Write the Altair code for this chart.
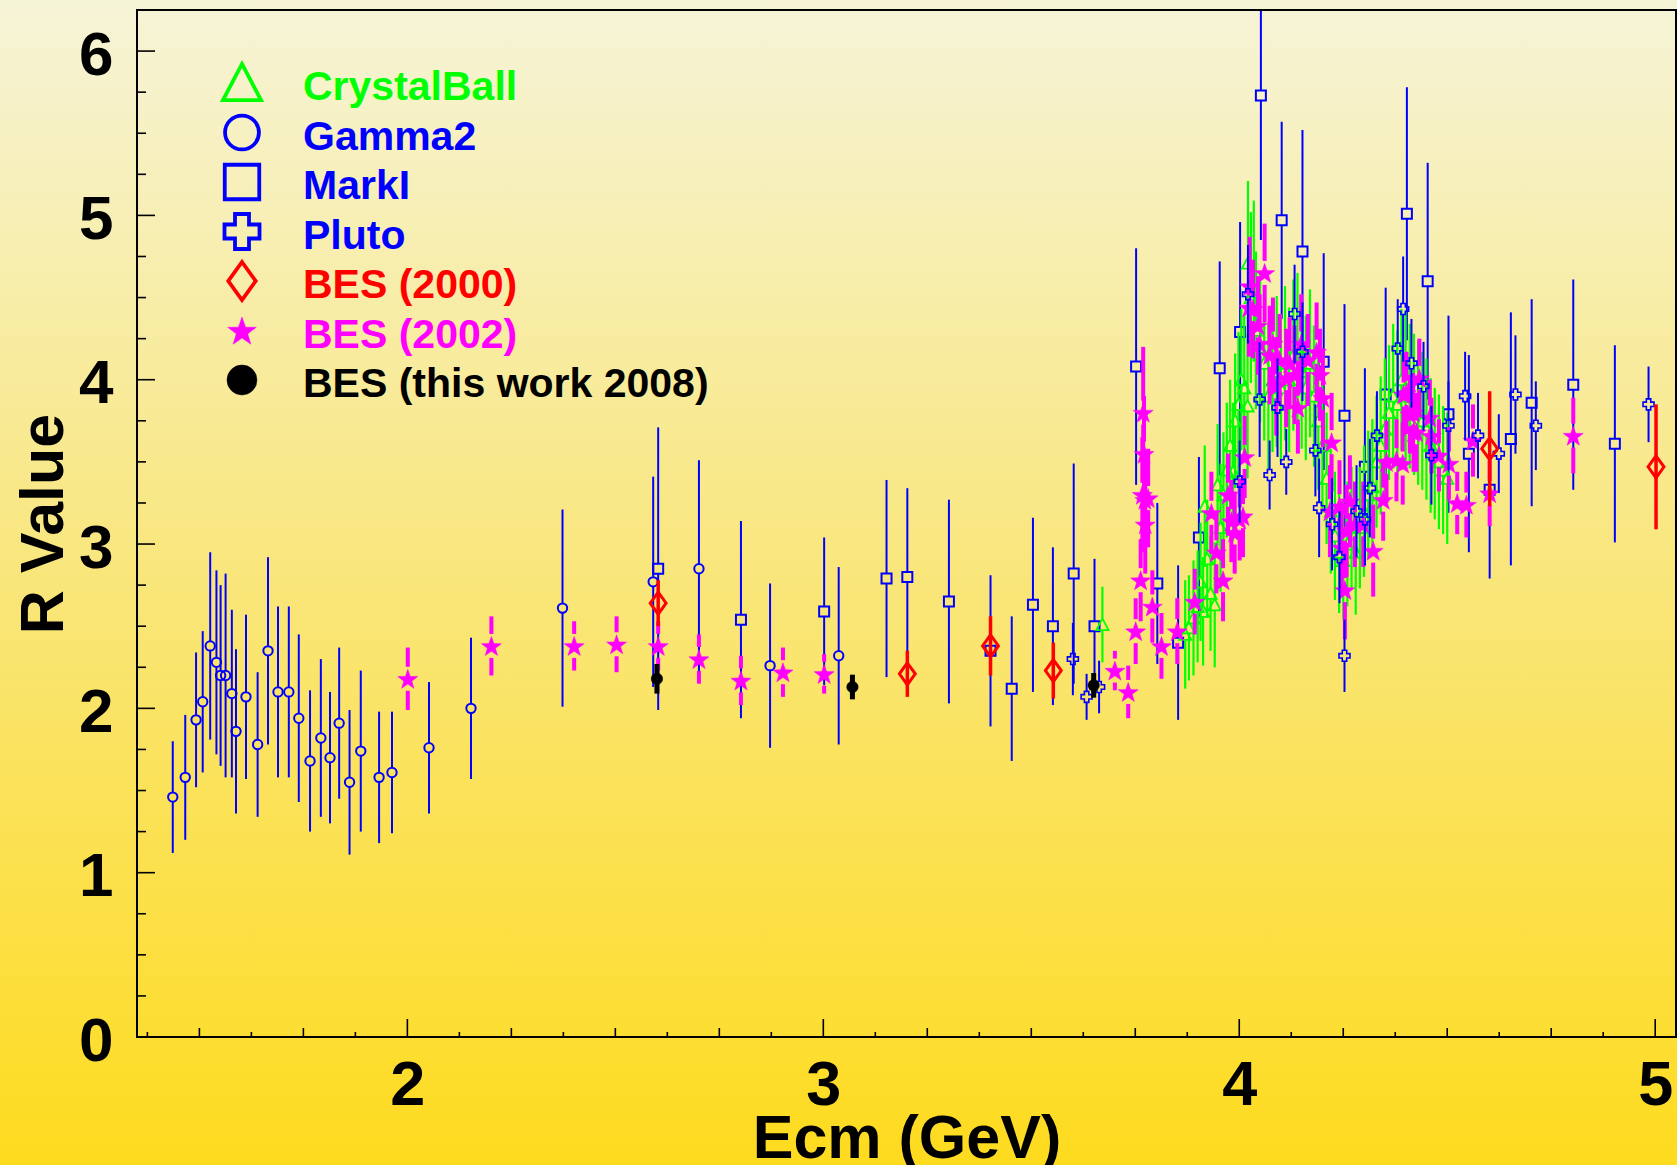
import math
import altair as alt
import pandas as pd

# ---------------- data ----------------
cb_E = [3.671, 3.870, 3.879, 3.890, 3.900, 3.907, 3.913, 3.917, 3.923, 3.931, 3.941, 3.948, 3.955, 3.962,
        3.970, 3.978, 3.985, 3.990, 3.998, 4.005, 4.012, 4.020, 4.021, 4.028, 4.035, 4.040, 4.050, 4.060,
        4.070, 4.080, 4.090, 4.100, 4.110, 4.120, 4.130, 4.140, 4.150, 4.160, 4.170, 4.180, 4.190, 4.200,
        4.210, 4.220, 4.230, 4.240, 4.250, 4.260, 4.270, 4.280, 4.290, 4.300, 4.310, 4.320, 4.330, 4.340,
        4.350, 4.360, 4.370, 4.380, 4.390, 4.400, 4.410, 4.420, 4.430, 4.440, 4.450, 4.460, 4.470, 4.480,
        4.490, 4.500]
cb_R = [2.51, 2.45, 2.49, 2.55, 2.62, 2.77, 2.59, 3.23, 2.91, 2.70, 2.63, 3.36, 3.10, 3.30,
        3.45, 3.60, 3.44, 3.75, 3.85, 4.00, 3.95, 3.84, 4.71, 4.50, 4.60, 4.30, 4.20, 4.10,
        3.90, 4.00, 4.05, 3.95, 4.10, 4.00, 4.15, 4.20, 4.05, 3.95, 4.10, 3.90, 3.75, 3.60,
        3.40, 3.20, 3.05, 2.95, 2.90, 3.00, 3.10, 2.95, 3.10, 3.20, 3.30, 3.35, 3.50, 3.60,
        3.70, 3.80, 3.90, 3.85, 4.00, 3.95, 3.90, 3.85, 3.80, 3.75, 3.70, 3.60, 3.55, 3.50,
        3.45, 3.40]
cb_err = [0.23, 0.33, 0.32, 0.35, 0.34, 0.36, 0.33, 0.37, 0.36, 0.35, 0.38, 0.37, 0.39, 0.38,
          0.41, 0.40, 0.42, 0.41, 0.44, 0.43, 0.45, 0.44, 0.50, 0.52, 0.49, 0.48, 0.46, 0.47,
          0.45, 0.44, 0.46, 0.45, 0.47, 0.44, 0.46, 0.45, 0.47, 0.44, 0.45, 0.43, 0.42, 0.41,
          0.40, 0.38, 0.39, 0.37, 0.36, 0.38, 0.37, 0.38, 0.37, 0.40, 0.39, 0.41, 0.40, 0.42,
          0.43, 0.41, 0.44, 0.45, 0.43, 0.46, 0.44, 0.43, 0.44, 0.42, 0.43, 0.41, 0.40, 0.41,
          0.39, 0.40]

g2_E = [1.436, 1.466, 1.492, 1.508, 1.526, 1.541, 1.551, 1.563, 1.578, 1.588, 1.612, 1.640, 1.665,
        1.689, 1.715, 1.739, 1.766, 1.792, 1.814, 1.836, 1.861, 1.888, 1.932, 1.963, 2.052, 2.153,
        2.373, 2.591, 2.701, 2.872, 3.037]
g2_R = [1.46, 1.58, 1.93, 2.04, 2.38, 2.28, 2.20, 2.20, 2.09, 1.86, 2.07, 1.78, 2.35,
        2.10, 2.10, 1.94, 1.68, 1.82, 1.70, 1.91, 1.55, 1.74, 1.58, 1.61, 1.76, 2.00,
        2.61, 2.77, 2.85, 2.26, 2.32]
g2_err = [0.34, 0.38, 0.41, 0.43, 0.57, 0.56, 0.55, 0.62, 0.51, 0.50, 0.50, 0.44, 0.57,
          0.52, 0.52, 0.51, 0.43, 0.48, 0.40, 0.46, 0.44, 0.49, 0.40, 0.37, 0.40, 0.43,
          0.60, 0.64, 0.66, 0.50, 0.54]

mk_E = [2.603, 2.802, 3.002, 3.152, 3.202, 3.302, 3.402, 3.453, 3.504, 3.552, 3.602, 3.652, 3.752,
        3.803, 3.853, 3.903, 3.953, 4.002, 4.052, 4.102, 4.152, 4.203, 4.253, 4.302, 4.352, 4.403,
        4.453, 4.503, 4.552, 4.602, 4.653, 4.703, 4.803, 4.903]
mk_R = [2.85, 2.54, 2.59, 2.79, 2.80, 2.65, 2.35, 2.12, 2.63, 2.50, 2.82, 2.50, 4.08,
        2.76, 2.40, 3.04, 4.07, 4.29, 5.73, 4.97, 4.78, 4.11, 3.78, 3.47, 3.91, 5.01,
        4.60, 3.79, 3.55, 3.33, 3.64, 3.86, 3.97, 3.61]
mk_err = [0.86, 0.60, 0.45, 0.60, 0.54, 0.62, 0.46, 0.44, 0.53, 0.48, 0.67, 0.41, 0.72,
          0.49, 0.47, 0.49, 0.65, 0.67, 0.88, 0.60, 0.74, 0.66, 0.68, 0.60, 0.65, 0.77,
          0.72, 0.60, 0.60, 0.54, 0.77, 0.63, 0.64, 0.60]

pl_E = [3.600, 3.633, 3.663, 4.001, 4.021, 4.049, 4.073, 4.092, 4.113, 4.133, 4.152, 4.183, 4.192,
        4.223, 4.241, 4.253, 4.282, 4.302, 4.314, 4.331, 4.381, 4.394, 4.414, 4.443, 4.462, 4.503,
        4.543, 4.574, 4.624, 4.664, 4.713, 4.984]
pl_R = [2.30, 2.07, 2.13, 3.38, 4.52, 3.88, 3.42, 3.83, 3.50, 4.40, 4.17, 3.57, 3.22,
        3.12, 2.92, 2.32, 3.20, 3.15, 3.34, 3.66, 4.19, 4.43, 4.10, 3.96, 3.54, 3.72,
        3.90, 3.66, 3.55, 3.91, 3.72, 3.85]
pl_err = [0.22, 0.14, 0.16, 0.25, 0.30, 0.35, 0.21, 0.30, 0.20, 0.30, 0.30, 0.28, 0.30,
          0.28, 0.28, 0.22, 0.28, 0.28, 0.30, 0.27, 0.30, 0.32, 0.27, 0.27, 0.30, 0.27,
          0.27, 0.26, 0.24, 0.36, 0.27, 0.23]

b00_E = [2.603, 3.202, 3.402, 3.553, 4.602, 5.002]
b00_R = [2.64, 2.21, 2.38, 2.23, 3.58, 3.47]
b00_err = [0.14, 0.14, 0.18, 0.17, 0.35, 0.38]

b02_E = [2.001, 2.202, 2.401, 2.503, 2.603, 2.701, 2.802, 2.903, 3.002, 3.701, 3.733, 3.751, 3.763,
         3.767, 3.769, 3.771, 3.773, 3.774, 3.781, 3.791, 3.813, 3.851, 3.893, 3.933, 3.945, 3.961,
         3.973, 3.981, 3.989, 4.001, 4.009, 4.013, 4.023, 4.025, 4.033, 4.045, 4.049, 4.061, 4.073,
         4.081, 4.089, 4.097, 4.113, 4.121, 4.133, 4.141, 4.149, 4.165, 4.186, 4.194, 4.201, 4.218,
         4.222, 4.241, 4.246, 4.254, 4.258, 4.266, 4.278, 4.298, 4.322, 4.346, 4.354, 4.378, 4.393,
         4.395, 4.402, 4.410, 4.418, 4.419, 4.426, 4.433, 4.458, 4.462, 4.480, 4.504, 4.524, 4.546,
         4.562, 4.602, 4.803]
b02_R = [2.18, 2.38, 2.38, 2.39, 2.38, 2.30, 2.17, 2.22, 2.21, 2.23, 2.10, 2.47, 2.78,
         3.30, 3.80, 3.55, 3.27, 3.12, 3.28, 2.62, 2.38, 2.47, 2.65, 3.19, 2.95, 2.78,
         3.30, 3.14, 3.07, 3.15, 3.17, 3.53, 4.44, 4.57, 4.43, 4.33, 4.22, 4.65, 4.15,
         4.22, 3.96, 4.12, 4.01, 4.10, 4.03, 3.83, 4.22, 4.12, 4.17, 4.03, 3.89, 3.20,
         3.62, 3.23, 2.98, 2.72, 3.08, 3.26, 3.12, 3.12, 2.96, 3.27, 3.50, 3.51, 3.49,
         3.91, 3.92, 3.79, 3.80, 3.68, 3.68, 4.01, 3.77, 3.66, 3.54, 3.49, 3.25, 3.24,
         3.63, 3.31, 3.66]
b02_err = [0.19, 0.18, 0.15, 0.17, 0.15, 0.15, 0.15, 0.15, 0.12, 0.12, 0.16, 0.20, 0.25,
           0.35, 0.40, 0.35, 0.30, 0.30, 0.30, 0.22, 0.20, 0.20, 0.20, 0.25, 0.25, 0.25,
           0.25, 0.25, 0.25, 0.25, 0.25, 0.25, 0.30, 0.30, 0.30, 0.30, 0.30, 0.30, 0.30,
           0.28, 0.30, 0.28, 0.30, 0.28, 0.30, 0.28, 0.30, 0.28, 0.30, 0.28, 0.30, 0.28,
           0.30, 0.28, 0.28, 0.30, 0.28, 0.28, 0.26, 0.26, 0.28, 0.25, 0.25, 0.25, 0.25,
           0.25, 0.25, 0.24, 0.24, 0.24, 0.24, 0.24, 0.23, 0.23, 0.22, 0.22, 0.19, 0.20,
           0.22, 0.20, 0.23]

b08_E = [2.600, 3.070, 3.650]
b08_R = [2.18, 2.13, 2.14]
b08_err = [0.09, 0.075, 0.075]

legend_names = ["CrystalBall", "Gamma2", "MarkI", "Pluto", "BES (2000)", "BES (2002)",
                "BES (this work 2008)"]

y_major_ticks = [0, 1, 2, 3, 4, 5, 6]
y_minor_ticks = [v / 4 for v in range(0, 25) if v % 4 != 0]
x_major_ticks = [2, 3, 4, 5]
x_mid_ticks = [v / 4 for v in range(6, 21) if v % 4 != 0]
x_small_ticks = [v / 8 for v in range(11, 41) if v % 2 == 1]

# ---------------- style ----------------
W, H = 1539, 1027
FONT = "Liberation Sans"
GREEN, BLUE, RED, MAG, BLACK = "#00ff00", "#0000ff", "#ff0000", "#ff00ff", "#000000"

def star_path():
    pts = []
    for k in range(10):
        r = 1.0 if k % 2 == 0 else 0.40
        a = math.pi / 2 + k * math.pi / 5
        pts.append((r * math.cos(a), -r * math.sin(a) + 0.1))
    return "M" + "L".join(f"{x:.3f},{y:.3f}" for x, y in pts) + "Z"

STAR = star_path()
DIAMOND = "M0,-1L0.72,0L0,1L-0.72,0Z"
TRI = "M0,-1L1,0.9L-1,0.9Z"

xs = alt.Scale(domain=[1.35, 5.05], nice=False, zero=False)
ys = alt.Scale(domain=[0, 6.25], nice=False, zero=False)

XAXIS = alt.Axis(
    values=x_major_ticks, format="d", ticks=False, tickSize=0, domain=False, grid=False,
    labelFont=FONT, labelFontWeight="bold", labelFontSize=63, labelColor=BLACK,
    labelPadding=67, labelBaseline="alphabetic", labelFlush=False, labelOverlap=False,
    title="Ecm (GeV)", titleFont=FONT, titleFontWeight="bold", titleFontSize=61,
    titleColor=BLACK, titleY=120, titleBaseline="alphabetic", zindex=2)
YAXIS = alt.Axis(
    values=y_major_ticks, format="d", ticks=False, tickSize=0, domain=False, grid=False,
    labelFont=FONT, labelFontWeight="bold", labelFontSize=62, labelColor=BLACK,
    labelPadding=24, labelOffset=4, labelFlush=False, labelOverlap=False,
    title="R Value", titleFont=FONT, titleFontWeight="bold", titleFontSize=61,
    titleColor=BLACK, titleX=-75, titleBaseline="alphabetic", titleAngle=270, zindex=2)


def X(f):
    return alt.X(f, scale=xs, axis=XAXIS)


def Y(f):
    return alt.Y(f, scale=ys, axis=YAXIS)


def series(E, R, err, color, shape, size, filled, sw, bw, gap):
    df = pd.DataFrame({"E": E, "R": R, "err": err})
    df["hi"] = df["R"] + df["err"]
    df["lo"] = df["R"] - df["err"]
    base = alt.Chart(df)
    out = []
    if gap > 0:
        out.append(base.mark_rule(color=color, strokeWidth=bw, clip=True, y2Offset=-gap).encode(
            x=X("E:Q"), y=Y("hi:Q"), y2="R:Q"))
        out.append(base.mark_rule(color=color, strokeWidth=bw, clip=True, yOffset=gap).encode(
            x=X("E:Q"), y=Y("R:Q"), y2="lo:Q"))
    else:
        out.append(base.mark_rule(color=color, strokeWidth=bw, clip=True).encode(
            x=X("E:Q"), y=Y("hi:Q"), y2="lo:Q"))
    if filled:
        pt = base.mark_point(shape=shape, size=size, filled=True, fill=color, stroke=color,
                             strokeWidth=0.5, opacity=1, clip=True)
    else:
        pt = base.mark_point(shape=shape, size=size, filled=False, stroke=color, fill=None,
                             strokeWidth=sw, opacity=1, clip=True)
    out.append(pt.encode(x=X("E:Q"), y=Y("R:Q")))
    return out


bg = alt.Chart(alt.Data(values=[{"k": 0}])).mark_rect(
    fill={"gradient": "linear", "x1": 0, "x2": 0, "y1": 0, "y2": 1,
          "stops": [{"offset": 0, "color": "#f6f4d8"},
                    {"offset": 0.5, "color": "#f9e67a"},
                    {"offset": 1, "color": "#fedb1e"}]}
).encode(x=alt.value(-137), x2=alt.value(W + 1), y=alt.value(-10), y2=alt.value(H + 128))

layers = [bg]

# ticks (pointing inside the frame)
tick_style = dict(color=BLACK, strokeWidth=1.6)
ymaj = alt.Chart(pd.DataFrame({"v": y_major_ticks})).mark_rule(**tick_style).encode(
    y=Y("v:Q"), x=alt.value(0), x2=alt.value(18))
ymin = alt.Chart(pd.DataFrame({"v": y_minor_ticks})).mark_rule(**tick_style).encode(
    y=Y("v:Q"), x=alt.value(0), x2=alt.value(9))
xmaj = alt.Chart(pd.DataFrame({"v": x_major_ticks})).mark_rule(**tick_style).encode(
    x=X("v:Q"), y=alt.value(H), y2=alt.value(H - 18))
xmid = alt.Chart(pd.DataFrame({"v": x_mid_ticks})).mark_rule(**tick_style).encode(
    x=X("v:Q"), y=alt.value(H), y2=alt.value(H - 9))
xsmall = alt.Chart(pd.DataFrame({"v": x_small_ticks})).mark_rule(**tick_style).encode(
    x=X("v:Q"), y=alt.value(H), y2=alt.value(H - 5))
layers += [ymaj, ymin, xmaj, xmid, xsmall]

layers += series(g2_E, g2_R, g2_err, BLUE, "circle", 88, False, 2, 2, 5)
layers += series(mk_E, mk_R, mk_err, BLUE, "square", 100, False, 2, 2, 5)
layers += series(cb_E, cb_R, cb_err, GREEN, TRI, 150, False, 1.8, 2.2, 6)
layers += series(b02_E, b02_R, b02_err, MAG, STAR, 441, True, 1, 4, 12)
layers += series(pl_E, pl_R, pl_err, BLUE, "cross", 121, False, 1.6, 2, 5)
layers += series(b00_E, b00_R, b00_err, RED, DIAMOND, 484, False, 3, 3.5, 0)
layers += series(b08_E, b08_R, b08_err, BLACK, "circle", 132, True, 1, 5, 0)

# frame
frame = alt.Chart(alt.Data(values=[{"k": 0}])).mark_rect(
    fill=None, stroke=BLACK, strokeWidth=2
).encode(x=alt.value(0), x2=alt.value(W), y=alt.value(0), y2=alt.value(H))
layers.append(frame)

# legend
leg_style = [
    (GREEN, TRI, 1450, False),
    (BLUE, "circle", 1150, False),
    (BLUE, "square", 1190, False),
    (BLUE, "cross", 1225, False),
    (RED, DIAMOND, 1444, False),
    (MAG, STAR, 900, True),
    (BLACK, "circle", 900, True),
]
for i, (name, (col, shp, sz, filled)) in enumerate(zip(legend_names, leg_style)):
    yy = 73 + 49.5 * i
    d = alt.Data(values=[{"name": name}])
    if filled:
        sym = alt.Chart(d).mark_point(shape=shp, size=sz, filled=True, fill=col, stroke=col,
                                      strokeWidth=0.5, opacity=1)
    else:
        sym = alt.Chart(d).mark_point(shape=shp, size=sz, filled=False, stroke=col, fill=None,
                                      strokeWidth=3.8, opacity=1)
    layers.append(sym.encode(x=alt.value(105), y=alt.value(yy)))
    layers.append(alt.Chart(d).mark_text(
        align="left", baseline="alphabetic", dy=17, font=FONT, fontWeight="bold",
        fontSize=41, color=col).encode(x=alt.value(166), y=alt.value(yy), text="name:N"))

chart = alt.layer(*layers).properties(
    width=W, height=H,
    padding={"left": 137, "top": 10, "right": 1, "bottom": 128},
    autosize=alt.AutoSizeParams(type="none"),
).configure(background="#f9e67a").configure_view(stroke=None, fill=None)

chart.save("out.html", embed_options={"renderer": "svg", "actions": False})
